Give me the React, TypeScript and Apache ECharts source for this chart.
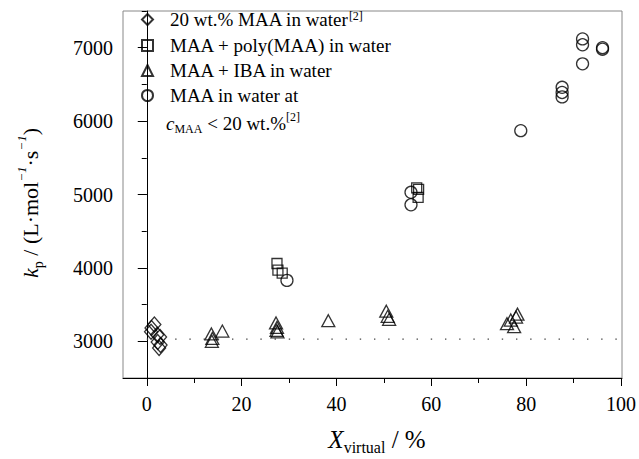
import React, { useEffect, useRef } from "react";
import * as echarts from "echarts";

// ---- data ----
const diamondX = [1.6, 1.0, 0.9, 2.2, 2.8, 2.3, 2.9, 2.6];
const diamondY = [3230, 3180, 3130, 3090, 3060, 2990, 2950, 2910];

const squareX = [27.4, 27.6, 28.5, 56.8, 57.2, 57.1];
const squareY = [4060, 3970, 3930, 5090, 5070, 4960];

const triangleX = [13.6, 13.8, 13.7, 15.9, 27.2, 27.3, 27.4, 27.5, 38.2, 50.4, 50.7, 51.0, 75.8, 76.6, 77.3, 77.7, 78.0];
const triangleY = [3100, 3040, 3000, 3140, 3250, 3150, 3190, 3130, 3280, 3410, 3340, 3300, 3240, 3290, 3200, 3330, 3370];

const circleX = [29.5, 55.6, 55.6, 78.7, 87.4, 87.4, 87.4, 91.7, 91.7, 91.7, 95.9, 95.9];
const circleY = [3830, 5030, 4860, 5870, 6460, 6390, 6330, 7120, 7040, 6780, 7000, 6980];

const baselineX = [0, 100];
const baselineY = 3030;

const seriesNames = [
  "20 wt.% MAA in water",
  "MAA + poly(MAA) in water",
  "MAA + IBA in water",
  "MAA in water at",
];

const xTicks = { min: 0, max: 100, step: 20 };
const yTicks = { min: 3000, max: 7000, step: 1000 };
const xRange = { min: -5, max: 100 };
const yRange = { min: 2500, max: 7500 };

const zip = (xs: number[], ys: number[]) => xs.map((x, i) => [x, ys[i]]);

const FONT = "Liberation Serif";

export default function App() {
  const ref = useRef<HTMLDivElement>(null);

  useEffect(() => {
    if (!ref.current) return;
    const chart = echarts.init(ref.current, null, { renderer: "svg" });

    const gL = 123, gT = 11, gW = 499, gH = 367;
    const pxPerX = gW / (xRange.max - xRange.min);
    const pxPerY = gH / (yRange.max - yRange.min);
    const bL = gL + (xTicks.min - xRange.min) * pxPerX;
    const bW = (xTicks.max - xTicks.min) * pxPerX;
    const bT = gT + (yRange.max - yTicks.max) * pxPerY;
    const bH = (yTicks.max - yTicks.min) * pxPerY;
    const xOffset = (yTicks.min - yRange.min) * pxPerY;
    const yOffset = (xTicks.min - xRange.min) * pxPerX;

    const tickRich = { t: { fontSize: 20, fontFamily: FONT, fontStyle: "normal", color: "#000" } };

    const mk = {
      type: "scatter",
      xAxisIndex: 0,
      yAxisIndex: 0,
      itemStyle: { color: "rgba(255,255,255,0)", borderColor: "#000", borderWidth: 1.3 },
      emphasis: { disabled: true },
    };

    const option: any = {
      animation: false,
      backgroundColor: "#fff",
      textStyle: { fontFamily: FONT, color: "#000" },
      grid: [
        { left: gL, top: gT, width: gW, height: gH, show: true, borderColor: "#888", borderWidth: 1, backgroundColor: "transparent" },
        { left: bL, top: bT, width: bW, height: bH, show: false },
      ],
      xAxis: [
        {
          gridIndex: 0, type: "value", min: xRange.min, max: xRange.max,
          axisLine: { show: true, lineStyle: { color: "#000", width: 1 } },
          axisTick: { show: false }, axisLabel: { show: false }, splitLine: { show: false },
        },
        {
          gridIndex: 1, type: "value", min: xTicks.min, max: xTicks.max, interval: xTicks.step,
          position: "bottom", offset: xOffset,
          axisLine: { show: false },
          axisTick: { show: true, length: 8, lineStyle: { color: "#000", width: 1 } },
          minorTick: { show: true, splitNumber: 2, length: 5, lineStyle: { color: "#000", width: 1 } },
          axisLabel: {
            color: "#000", fontSize: 20, fontFamily: FONT, margin: 16,
            formatter: (v: number) => "{t|" + String(v) + "}", rich: tickRich,
          },
          splitLine: { show: false },
        },
      ],
      yAxis: [
        {
          gridIndex: 0, type: "value", min: yRange.min, max: yRange.max, interval: 500,
          axisLine: { show: true, lineStyle: { color: "#000", width: 1 } },
          axisTick: { show: true, length: 5, lineStyle: { color: "#000", width: 1 } },
          axisLabel: { show: false }, splitLine: { show: false },
        },
        {
          gridIndex: 1, type: "value", min: yTicks.min, max: yTicks.max, interval: yTicks.step,
          position: "left", offset: yOffset,
          axisLine: { show: false },
          axisTick: { show: true, length: 9, lineStyle: { color: "#000", width: 1 } },
          axisLabel: {
            color: "#000", fontSize: 20, fontFamily: FONT, margin: 10,
            formatter: (v: number) => "{t|" + String(v) + "}", rich: tickRich,
          },
          splitLine: { show: false },
        },
      ],
      legend: {
        orient: "vertical",
        left: 136,
        top: 5,
        itemGap: 6,
        itemWidth: 11,
        itemHeight: 11,
        data: seriesNames,
        selectedMode: false,
        formatter: (name: string) => (name === seriesNames[0] ? name + "{sup|[2]}" : name),
        textStyle: {
          color: "#000",
          fontSize: 19,
          fontFamily: FONT,
          padding: [0, 0, 0, 12],
          rich: {
            sup: { fontSize: 12, fontFamily: FONT, color: "#000", verticalAlign: "top", lineHeight: 12, padding: [0, 0, 8, 0] },
          },
        },
      },
      series: [
        { ...mk, name: seriesNames[0], symbol: "diamond", symbolSize: [13, 15], data: zip(diamondX, diamondY), z: 3 },
        { ...mk, name: seriesNames[1], symbol: "rect", symbolSize: 10, data: zip(squareX, squareY), z: 3 },
        { ...mk, name: seriesNames[2], symbol: "triangle", symbolSize: [13, 12], data: zip(triangleX, triangleY), z: 3 },
        { ...mk, name: seriesNames[3], symbol: "circle", symbolSize: 12, data: zip(circleX, circleY), z: 3 },
        {
          type: "line", xAxisIndex: 0, yAxisIndex: 0, symbol: "none", silent: true, z: 1,
          data: baselineX.map((x) => [x, baselineY]),
          lineStyle: { color: "#444", width: 1.4, type: [1.4, 12.8] },
        },
      ],
      graphic: [
        {
          type: "text",
          left: 166,
          top: 111,
          style: {
            text: "{i|c}{sub|MAA}{n| < 20 wt.%}{sup|[2]}",
            rich: {
              i: { fontSize: 19, fontFamily: FONT, fontStyle: "italic", fill: "#000", verticalAlign: "middle", lineHeight: 24 },
              n: { fontSize: 19, fontFamily: FONT, fill: "#000", verticalAlign: "middle", lineHeight: 24 },
              sub: { fontSize: 12, fontFamily: FONT, fill: "#000", verticalAlign: "bottom", lineHeight: 12 },
              sup: { fontSize: 12, fontFamily: FONT, fill: "#000", verticalAlign: "top", lineHeight: 12 },
            },
          },
        },
        {
          type: "text",
          x: 377,
          y: 439,
          style: {
            text: "{i|X}{sub|virtual}{n| / %}",
            align: "center",
            verticalAlign: "middle",
            rich: {
              i: { fontSize: 25, fontFamily: FONT, fontStyle: "italic", fill: "#000", verticalAlign: "middle", lineHeight: 32 },
              n: { fontSize: 25, fontFamily: FONT, fill: "#000", verticalAlign: "middle", lineHeight: 32 },
              sub: { fontSize: 16, fontFamily: FONT, fill: "#000", verticalAlign: "bottom", lineHeight: 15 },
            },
          },
        },
        {
          type: "text",
          x: 30,
          y: 203,
          rotation: Math.PI / 2,
          style: {
            text: "{i|k}{sub|p}{n| / (L·mol}{sup|−1}{n|·s}{sup|−1}{n|)}",
            align: "center",
            verticalAlign: "middle",
            rich: {
              i: { fontSize: 22, fontFamily: FONT, fontStyle: "italic", fill: "#000", verticalAlign: "middle", lineHeight: 30 },
              n: { fontSize: 22, fontFamily: FONT, fill: "#000", verticalAlign: "middle", lineHeight: 30 },
              sub: { fontSize: 14, fontFamily: FONT, fill: "#000", verticalAlign: "bottom", lineHeight: 14 },
              sup: { fontSize: 13, fontFamily: FONT, fontStyle: "italic", fill: "#000", verticalAlign: "top", lineHeight: 13 },
            },
          },
        },
      ],
    };

    chart.setOption(option);
    return () => chart.dispose();
  }, []);

  return (
    <div
      ref={ref}
      style={{ position: "fixed", left: 0, top: 0, width: 639, height: 459, background: "#fff" }}
    />
  );
}
